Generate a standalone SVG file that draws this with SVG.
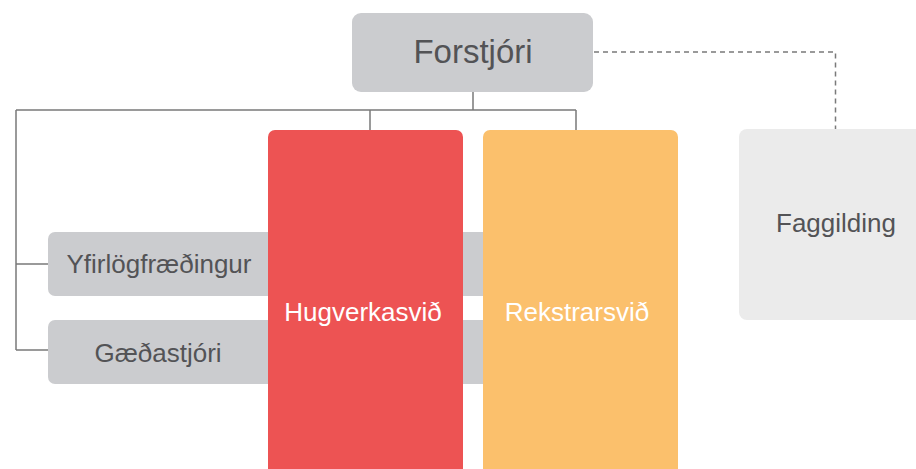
<svg xmlns="http://www.w3.org/2000/svg" width="916" height="469" viewBox="0 0 916 469">
  <style>
    .line { fill: none; stroke: #7a7a7a; stroke-width: 1.5; }
    .dash { fill: none; stroke: #7a7a7a; stroke-width: 1.5; stroke-dasharray: 5 4; }
    .gray { fill: #cbcccf; }
    .light { fill: #ebebeb; }
    .t { font-family: "Liberation Sans", Arial, sans-serif; text-anchor: middle; font-size: 26px; }
    .dark { fill: #535356; }
    .white { fill: #ffffff; }
  </style>
  <rect width="916" height="469" fill="#ffffff"/>
  <g id="connectors">
    <path class="line" d="M473 92 V110 M16 110 H576 M370 110 V130 M576 110 V130 M16 110 V350 M16 264 H48 M16 350 H48"/>
    <path class="dash" d="M594 52 H835.5 V129"/>
  </g>
  <g id="yfirlogfraedingur">
    <rect class="gray" x="48" y="232" width="450" height="64" rx="7"/>
    <text class="t dark" x="159" y="273">Yfirlögfræðingur</text>
  </g>
  <g id="gaedastjori">
    <rect class="gray" x="48" y="320" width="450" height="64" rx="7"/>
    <text class="t dark" x="158" y="362">Gæðastjóri</text>
  </g>
  <g id="forstjori">
    <rect class="gray" x="352" y="13" width="241" height="79" rx="9"/>
    <text class="t dark" x="473" y="63" style="font-size:33px">Forstjóri</text>
  </g>
  <g id="hugverkasvid">
    <rect x="268" y="130" width="195" height="360" rx="7" fill="#ed5353"/>
    <text class="t white" x="363" y="321">Hugverkasvið</text>
  </g>
  <g id="rekstrarsvid">
    <rect x="483" y="130" width="195" height="360" rx="7" fill="#fbc06c"/>
    <text class="t white" x="577" y="321">Rekstrarsvið</text>
  </g>
  <g id="faggilding">
    <rect class="light" x="739" y="129" width="200" height="191" rx="8"/>
    <text class="t dark" x="836" y="232">Faggilding</text>
  </g>
</svg>
